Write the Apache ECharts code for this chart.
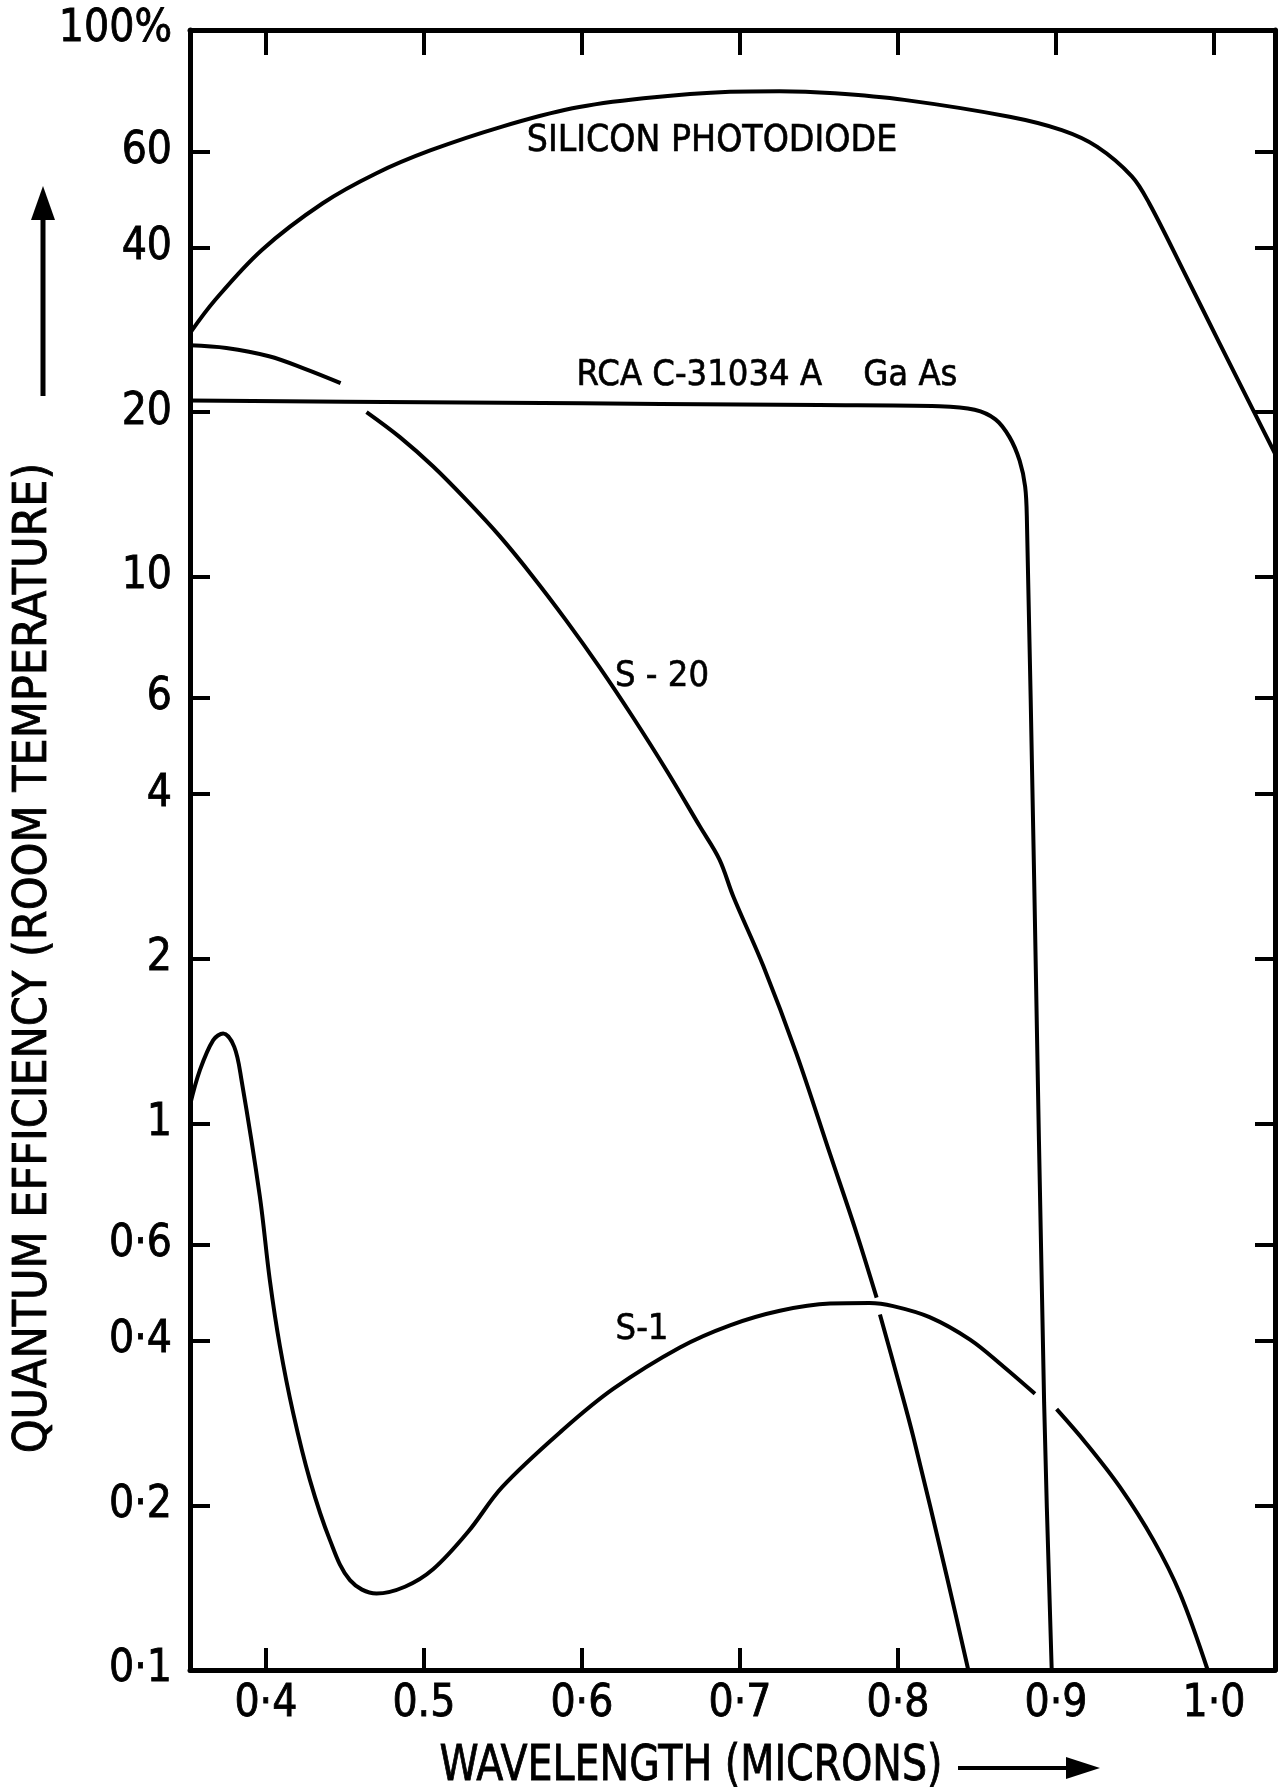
<!DOCTYPE html>
<html>
<head>
<meta charset="utf-8">
<script src="https://cdn.jsdelivr.net/npm/echarts@6/dist/echarts.min.js"></script>
<style>
html,body{margin:0;padding:0;background:#fff;}
#c{width:1278px;height:1791px;}
</style>
</head>
<body>
<div id="c"></div>
<script>
// ---------- tick values / labels ----------
const xTickValues = [0.4, 0.5, 0.6, 0.7, 0.8, 0.9, 1.0];
const xTickLabels = ['0·4', '0.5', '0·6', '0·7', '0·8', '0·9', '1·0'];
const xBottomTickValues = [0.4, 0.5, 0.6, 0.7, 0.8];
const yTickValues = [0.1, 0.2, 0.4, 0.6, 1, 2, 4, 6, 10, 20, 40, 60, 100];
const yTickLabels = ['0·1', '0·2', '0·4', '0·6', '1', '2', '4', '6', '10', '20', '40', '60', '100%'];

// ---------- series (wavelength in microns, quantum efficiency in %) ----------
const siliconWl = [0.352, 0.368, 0.3975, 0.436, 0.470, 0.504, 0.549, 0.594, 0.639, 0.6937, 0.725, 0.760, 0.804, 0.8706, 0.9037, 0.9259, 0.948, 0.959, 0.981, 1.0033, 1.0254, 1.0386];
const siliconQe = [27.9, 32.1, 39.6, 48.2, 54.7, 60.2, 66.5, 71.9, 75.0, 77.1, 77.3, 76.6, 74.5, 69.4, 65.6, 61.2, 54.0, 48.2, 36.1, 26.8, 20.0, 16.8];

const gaasWl = [0.352, 0.45, 0.55, 0.65, 0.75, 0.8263, 0.8485, 0.8617, 0.8706, 0.877, 0.8805, 0.8816, 0.8862, 0.8925, 0.8973];
const gaasQe = [21.0, 20.9, 20.8, 20.7, 20.6, 20.5, 20.2, 19.4, 18.0, 16.3, 14.6, 12.7, 2.79, 0.308, 0.1];

const s20Wl = [0.352, 0.375, 0.402, 0.4247, 0.4473, 0.455, 0.4637, 0.4848, 0.5059, 0.527, 0.548, 0.569, 0.590, 0.611, 0.6325, 0.6536, 0.6747, 0.687, 0.6958, 0.7148, 0.7358, 0.757, 0.7738, 0.7865, 0.7875, 0.7886, 0.800, 0.8097, 0.831, 0.8445];
const s20Qe = [26.5, 26.2, 25.3, 24.0, 22.6, null, 20.0, 18.0, 15.9, 13.8, 11.86, 10.0, 8.32, 6.84, 5.52, 4.42, 3.49, 3.04, 2.60, 1.94, 1.34, 0.879, 0.63, 0.48, null, 0.447, 0.34, 0.267, 0.148, 0.1];

const s1Wl = [0.352, 0.3582, 0.3667, 0.373, 0.380, 0.3846, 0.3962, 0.4025, 0.4089, 0.4173, 0.4278, 0.4405, 0.4532, 0.470, 0.488, 0.506, 0.528, 0.5495, 0.588, 0.620, 0.662, 0.6937, 0.7253, 0.757, 0.782, 0.797, 0.820, 0.8456, 0.8667, 0.8867, 0.8935, 0.9004, 0.919, 0.9405, 0.9616, 0.9785, 0.996];
const s1Qe = [1.08, 1.25, 1.42, 1.46, 1.38, 1.20, 0.735, 0.517, 0.391, 0.295, 0.223, 0.173, 0.146, 0.138, 0.142, 0.153, 0.179, 0.216, 0.275, 0.327, 0.389, 0.427, 0.454, 0.468, 0.469, 0.463, 0.442, 0.402, 0.359, 0.320, null, 0.300, 0.260, 0.216, 0.173, 0.138, 0.1];

// ---------- build ----------
const FONT = "'DejaVu Sans Condensed', 'DejaVu Sans', sans-serif";
const zip = (a, b) => a.map((v, i) => [v, b[i]]);
function lookup(vals, labels, v) {
  for (let i = 0; i < vals.length; i++) {
    if (Math.abs(vals[i] - v) <= 1e-6 * Math.max(1, Math.abs(vals[i]))) return labels[i];
  }
  return '';
}
const lineStyle = { color: '#000', width: 4 };
function curve(name, wl, qe) {
  return {
    name: name, type: 'line', data: zip(wl, qe), xAxisIndex: 0, yAxisIndex: 0,
    smooth: 0.35, showSymbol: false, symbol: 'none', connectNulls: false,
    lineStyle: lineStyle, silent: true, animation: false, clip: true
  };
}
const axisLine = { show: true, lineStyle: { color: '#000', width: 5 } };
const xMin = 0.352, xMax = 1.0386;
const textBold = { textBorderColor: '#000', textBorderWidth: 0.8 };

const chart = echarts.init(document.getElementById('c'), null, { renderer: 'canvas' });
chart.setOption({
  backgroundColor: '#fff',
  animation: false,
  grid: { left: 190, right: 3, top: 30, bottom: 121, containLabel: false, outerBoundsMode: 'none' },
  xAxis: [
    {
      type: 'value', position: 'bottom', min: xMin, max: xMax,
      axisLine: axisLine,
      axisTick: { show: true, inside: true, length: 22, lineStyle: { color: '#000', width: 4 }, customValues: xBottomTickValues },
      axisLabel: Object.assign({ show: true, customValues: xTickValues, color: '#000', fontFamily: FONT, fontSize: 44, margin: 13,
        formatter: v => lookup(xTickValues, xTickLabels, v) }, textBold),
      splitLine: { show: false }, minorTick: { show: false }
    },
    {
      type: 'value', position: 'top', min: xMin, max: xMax,
      axisLine: axisLine,
      axisTick: { show: true, inside: true, length: 25, lineStyle: { color: '#000', width: 4 }, customValues: xTickValues },
      axisLabel: { show: false },
      splitLine: { show: false }
    }
  ],
  yAxis: [
    {
      type: 'log', logBase: 10, position: 'left', min: 0.1, max: 100,
      axisLine: axisLine,
      axisTick: { show: true, inside: true, length: 20, lineStyle: { color: '#000', width: 4 }, customValues: yTickValues },
      axisLabel: Object.assign({ show: true, customValues: yTickValues, color: '#000', fontFamily: FONT, fontSize: 44, margin: 18,
        formatter: v => lookup(yTickValues, yTickLabels, v) }, textBold),
      splitLine: { show: false }, minorTick: { show: false }
    },
    {
      type: 'log', logBase: 10, position: 'right', min: 0.1, max: 100,
      axisLine: axisLine,
      axisTick: { show: true, inside: true, length: 20, lineStyle: { color: '#000', width: 4 }, customValues: yTickValues },
      axisLabel: { show: false },
      splitLine: { show: false }
    }
  ],
  series: [
    curve('Silicon photodiode', siliconWl, siliconQe),
    curve('RCA C-31034A GaAs', gaasWl, gaasQe),
    curve('S-20', s20Wl, s20Qe),
    curve('S-1', s1Wl, s1Qe)
  ],
  graphic: [
    { type: 'text', x: 712, y: 141, silent: true,
      style: { text: 'SILICON PHOTODIODE', fontSize: 37, fontFamily: FONT, fill: '#000', align: 'center', verticalAlign: 'middle', stroke: '#000', lineWidth: 0.6 } },
    { type: 'text', x: 767, y: 376, silent: true,
      style: { text: 'RCA C-31034 A    Ga As', fontSize: 36, fontFamily: FONT, fill: '#000', align: 'center', verticalAlign: 'middle', stroke: '#000', lineWidth: 0.6 } },
    { type: 'text', x: 662, y: 677, silent: true,
      style: { text: 'S - 20', fontSize: 36, fontFamily: FONT, fill: '#000', align: 'center', verticalAlign: 'middle', stroke: '#000', lineWidth: 0.6 } },
    { type: 'text', x: 642, y: 1330, silent: true,
      style: { text: 'S-1', fontSize: 36, fontFamily: FONT, fill: '#000', align: 'center', verticalAlign: 'middle', stroke: '#000', lineWidth: 0.6 } },
    { type: 'text', x: 34, y: 958, rotation: Math.PI / 2, scaleX: 1.04, silent: true,
      style: { text: 'QUANTUM EFFICIENCY (ROOM TEMPERATURE)', fontSize: 46, fontFamily: FONT, fill: '#000', align: 'center', verticalAlign: 'middle', stroke: '#000', lineWidth: 0.8 } },
    { type: 'line', silent: true, shape: { x1: 43, y1: 396, x2: 43, y2: 214 }, style: { stroke: '#000', lineWidth: 5 } },
    { type: 'polygon', silent: true, shape: { points: [[31, 220], [43, 186], [55, 220]] }, style: { fill: '#000' } },
    { type: 'text', x: 691, y: 1767, scaleX: 0.88, silent: true,
      style: { text: 'WAVELENGTH (MICRONS)', fontSize: 50, fontFamily: FONT, fill: '#000', align: 'center', verticalAlign: 'middle', stroke: '#000', lineWidth: 0.8 } },
    { type: 'line', silent: true, shape: { x1: 958, y1: 1768, x2: 1072, y2: 1768 }, style: { stroke: '#000', lineWidth: 4 } },
    { type: 'polygon', silent: true, shape: { points: [[1066, 1757], [1100, 1768], [1066, 1779]] }, style: { fill: '#000' } }
  ]
});
</script>
</body>
</html>
